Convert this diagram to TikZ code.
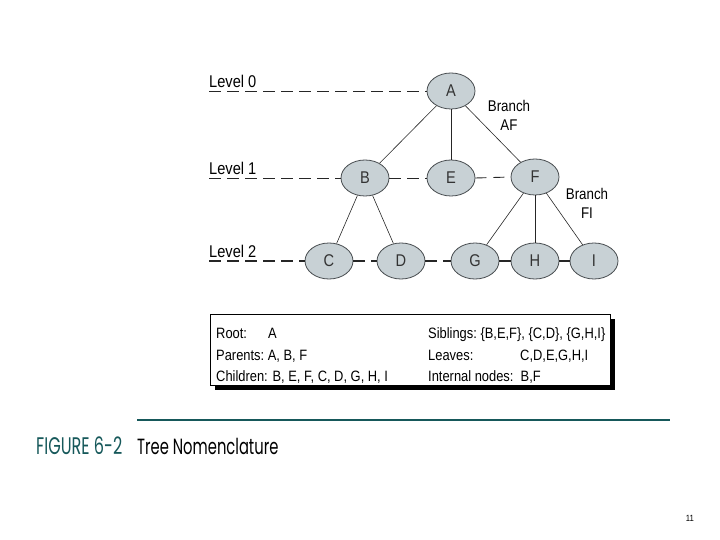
\documentclass[tikz,border=0pt]{standalone}
\usepackage{fontspec}
\setmainfont{Liberation Sans}[FakeStretch=0.86]
\newfontfamily\capfont{Poppins}[FakeStretch=0.67]
\usetikzlibrary{shapes.geometric}
\definecolor{nodefill}{RGB}{200,209,213}
\definecolor{nodeedge}{RGB}{70,75,78}
\definecolor{teal}{RGB}{22,88,90}
\tikzset{
  tnode/.style={ellipse, draw=nodeedge, line width=0.8pt, fill=nodefill, minimum width=48pt, minimum height=36pt, inner sep=0pt, font=\fontsize{17}{17}\selectfont, text=black!80},
  edge/.style={draw=black!85, line width=0.6pt},
  lvl/.style={draw=black!85, line width=0.9pt, dash pattern=on 12pt off 6pt},
  lvltwo/.style={draw=black!85, line width=1.6pt, dash pattern=on 12pt off 6pt},
  lvltxt/.style={anchor=base west, inner sep=0pt, font=\fontsize{17}{17}\selectfont},
  brtxt/.style={align=center, inner sep=0pt, font=\fontsize{15.5}{19}\selectfont},
  boxtxt/.style={anchor=base west, inner sep=0pt, font=\fontsize{15}{15}\selectfont}
}
\begin{document}
\begin{tikzpicture}[x=1pt,y=-1pt]
\useasboundingbox (0,0) rectangle (720,540);
% nodes
\node[tnode] (A) at (451,91) {A};
\node[tnode] (B) at (365,178) {B};
\node[tnode] (E) at (451,178) {E};
\node[tnode] (F) at (535,177) {F};
\node[tnode] (C) at (329,261) {C};
\node[tnode] (D) at (401,261) {D};
\node[tnode] (G) at (475,261) {G};
\node[tnode] (H) at (535,261) {H};
\node[tnode] (I) at (594,261) {I};
% level lines
\coordinate (L0) at (209,91);
\coordinate (L1) at (209,178);
\coordinate (L2) at (209,261);
\node[lvltxt] (t0) at (209,88) {Level 0};
\node[lvltxt] (t1) at (209,175) {Level 1};
\node[lvltxt] (t2) at (209,258) {Level 2};
\draw[lvl] (L0) -- (A.west);
\draw[lvl] (L1) -- (B.west);
\draw[lvl] (B.east) -- (E.west);
\draw[lvl, dash pattern=on 11pt off 7pt] (E.east) -- (F.west);
\draw[lvltwo] (L2) -- (C.west);
\draw[lvltwo] (C.east) -- (D.west);
\draw[lvltwo] (D.east) -- (G.west);
\draw[lvltwo] (G.east) -- (H.west);
\draw[lvltwo] (H.east) -- (I.west);
% edges
\draw[edge] (A) -- (B);
\draw[edge] (A) -- (E);
\draw[edge] (A) -- (F);
\draw[edge] (B) -- (C);
\draw[edge] (B) -- (D);
\draw[edge] (F) -- (G);
\draw[edge] (F) -- (H);
\draw[edge] (F) -- (I);
% branch labels
\node[brtxt] (bAF) at (509,115) {Branch\\AF};
\node[brtxt] (bFI) at (587,203) {Branch\\FI};
% box
\fill[black] (215,319) rectangle (615,390);
\node[draw=black, line width=0.8pt, fill=white, minimum width=400pt, minimum height=71pt, inner sep=0pt, anchor=north west] (box) at (210,314) {};
\node[boxtxt] (r1a) at (216,338) {Root:};
\node[boxtxt] (r1b) at (268,338) {A};
\node[boxtxt] (r2a) at (216,360) {Parents:\ A, B, F};
\node[boxtxt] (r3a) at (216,381) {Children: B, E, F, C, D, G, H, I};
\node[boxtxt] (s1a) at (428,338) {Siblings:\ \{B,E,F\}, \{C,D\}, \{G,H,I\}};
\node[boxtxt] (s2a) at (428,360) {Leaves:};
\node[boxtxt] (s2b) at (520,360) {C,D,E,G,H,I};
\node[boxtxt] (s3a) at (428,381) {Internal nodes:\ \ B,F};
% caption
\draw[teal, line width=2pt] (137,420) -- (670,420);
\node[anchor=base west, inner sep=0pt, text=teal, font=\capfont\fontsize{24}{24}\selectfont] (fig) at (36,454) {FIGURE 6-2};
\node[anchor=base west, inner sep=0pt, font=\capfont\fontsize{22}{22}\selectfont] (ttl) at (137,454) {Tree Nomenclature};
\node[inner sep=0pt, font=\fontsize{9}{9}\selectfont] (pg) at (690,518) {11};
\end{tikzpicture}
\end{document}
